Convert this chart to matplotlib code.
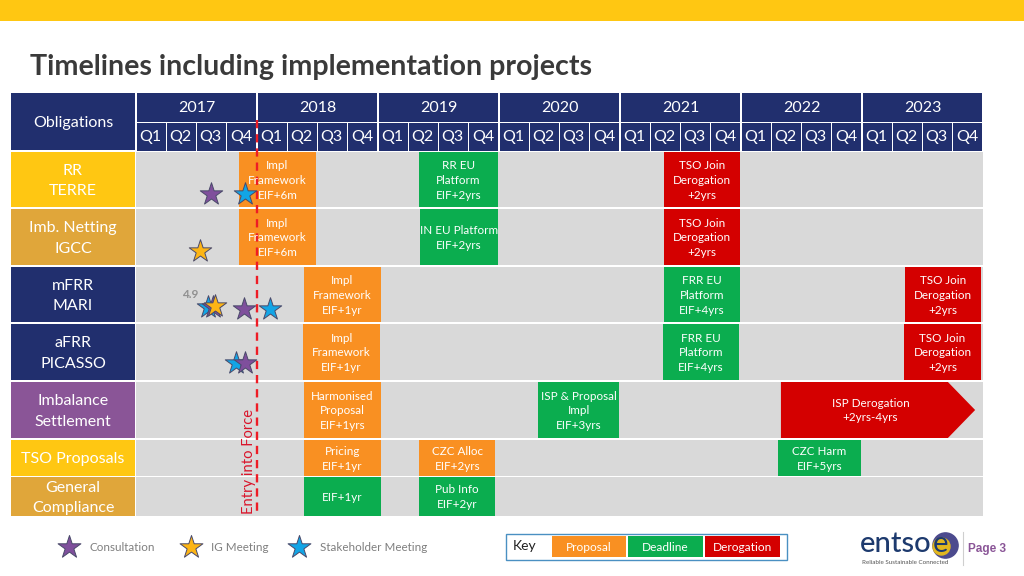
import matplotlib
matplotlib.use("Agg")
import matplotlib.pyplot as plt
from matplotlib.patches import Rectangle, Polygon

plt.rcParams['font.family'] = ['Lato', 'DejaVu Sans']

NAVY, YEL, GOLD, PUR = '#212F6E', '#FFC712', '#E0A63A', '#8A5597'
ORA, GRN, RED, GREY = '#F99022', '#0BAD4F', '#D40000', '#D9D9D9'
STAR_P, STAR_G, STAR_B = '#7F4F9C', '#FDB515', '#12A5E6'

years = [2017, 2018, 2019, 2020, 2021, 2022, 2023]
quarters = ['Q1', 'Q2', 'Q3', 'Q4']
row_labels = ['RR\nTERRE', 'Imb. Netting\nIGCC', 'mFRR\nMARI', 'aFRR\nPICASSO',
              'Imbalance\nSettlement', 'TSO Proposals', 'General\nCompliance']
row_colors = [YEL, GOLD, NAVY, NAVY, PUR, YEL, GOLD]
row_tops = [152, 209, 267, 324, 382, 440, 477]
row_bottoms = [207, 265, 322, 380, 438, 476, 516]

# row, start quarter, end quarter, colour, text
tasks = [
    (0, 3.40, 5.95, ORA, 'Impl\nFramework\nEIF+6m'),
    (0, 9.36, 11.97, GRN, 'RR EU\nPlatform\nEIF+2yrs'),
    (0, 17.45, 19.97, RED, 'TSO Join\nDerogation\n+2yrs'),
    (1, 3.40, 5.95, ORA, 'Impl\nFramework\nEIF+6m'),
    (1, 9.39, 11.97, GRN, 'IN EU Platform\nEIF+2yrs'),
    (1, 17.45, 19.97, RED, 'TSO Join\nDerogation\n+2yrs'),
    (2, 5.55, 8.10, ORA, 'Impl\nFramework\nEIF+1yr'),
    (2, 17.45, 19.97, GRN, 'FRR EU\nPlatform\nEIF+4yrs'),
    (2, 25.42, 27.93, RED, 'TSO Join\nDerogation\n+2yrs'),
    (3, 5.52, 8.07, ORA, 'Impl\nFramework\nEIF+1yr'),
    (3, 17.42, 19.94, GRN, 'FRR EU\nPlatform\nEIF+4yrs'),
    (3, 25.39, 27.93, RED, 'TSO Join\nDerogation\n+2yrs'),
    (4, 5.55, 8.10, ORA, 'Harmonised\nProposal\nEIF+1yrs'),
    (4, 13.29, 15.97, GRN, 'ISP & Proposal\nImpl\nEIF+3yrs'),
    (5, 5.55, 8.10, ORA, 'Pricing\nEIF+1yr'),
    (5, 9.36, 11.88, ORA, 'CZC Alloc\nEIF+2yrs'),
    (5, 21.22, 23.97, GRN, 'CZC Harm\nEIF+5yrs'),
    (6, 5.55, 8.10, GRN, 'EIF+1yr'),
    (6, 9.36, 11.88, GRN, 'Pub Info\nEIF+2yr'),
]
# row, start, shoulder, tip, text
arrow_task = (4, 21.32, 26.84, 27.74, 'ISP Derogation\n+2yrs-4yrs')

# quarter position, row-pixel y, colour (drawn in this order)
stars = [
    (2.47, 194, STAR_P), (3.59, 194, STAR_B), (2.11, 251, STAR_G),
    (2.38, 307, STAR_B), (2.55, 307, STAR_P), (2.60, 306, STAR_G),
    (3.57, 309, STAR_P), (4.43, 309, STAR_B),
    (3.31, 363, STAR_B), (3.61, 363, STAR_P),
]
eif_quarter = 4.0

X0, QW = 136, 30.25
fig = plt.figure(figsize=(10.24, 5.76), dpi=100)
ax = fig.add_axes([0, 0, 1, 1])
ax.set_xlim(-X0 / QW, (1024 - X0) / QW)
ax.set_ylim(576, 0)
ax.axis('off')
n_q = len(years) * 4


def rect(x0, y0, x1, y1, color, z=1, **kw):
    ax.add_patch(Rectangle((x0, y0), x1 - x0, y1 - y0, facecolor=color,
                           edgecolor=kw.pop('edgecolor', 'none'), zorder=z, **kw))


# top band and title
rect(-X0 / QW, 0, (1024 - X0) / QW, 21, YEL)
ax.text((30 - X0) / QW, 67, 'Timelines including implementation projects',
        fontsize=20.6, fontweight='bold', color='#3A3A3A', va='center', ha='left')

# header
lab_x0, lab_x1 = -125 / QW, -1 / QW
rect(lab_x0, 93, lab_x1, 150, NAVY)
ax.text((lab_x0 + lab_x1) / 2, 123.5, 'Obligations', color='white', fontsize=11.5, ha='center', va='center')
for i, y in enumerate(years):
    q0 = i * 4
    rect(q0 + 0.02, 93, q0 + 3.98, 121.5, NAVY)
    ax.text(q0 + 2, 108, str(y), color='white', fontsize=11.5, ha='center', va='center')
    for j, q in enumerate(quarters):
        rect(q0 + j + 0.02, 122.5, q0 + j + 0.98, 150.5, NAVY)
        ax.text(q0 + j + 0.47, 137.5, q, color='white', fontsize=11.5, ha='center', va='center')

# rows
for lab, col, t, b in zip(row_labels, row_colors, row_tops, row_bottoms):
    rect(lab_x0, t, lab_x1, b, col)
    rect(0, t, n_q, b, GREY)
    ax.text((lab_x0 + lab_x1) / 2, (t + b) / 2 + 1.5, lab, color='white', fontsize=11.5,
            ha='center', va='center', linespacing=1.62)

# tasks
for r, s, e, c, txt in tasks:
    t, b = row_tops[r], row_bottoms[r]
    rect(s, t, e, b, c, z=2)
    ax.text((s + e) / 2, (t + b) / 2 + 0.8, txt, color='white', fontsize=8.4, ha='center', va='center',
            linespacing=1.42, zorder=5)

r, s, sh, tip, txt = arrow_task
t, b = row_tops[r], row_bottoms[r]
ax.add_patch(Polygon([(s, t), (sh, t), (tip, (t + b) / 2), (sh, b), (s, b)], facecolor=RED,
                     edgecolor='none', zorder=2))
ax.text((s + sh) / 2 + 0.2, (t + b) / 2 + 0.5, txt, color='white', fontsize=8.4, ha='center', va='center',
        linespacing=1.42, zorder=5)

# entry into force
ax.plot([eif_quarter, eif_quarter], [120, 516], color='#EE1C25', lw=1.7, ls=(0, (3.5, 2.5)), zorder=4)
ax.text(eif_quarter - 0.27, 514, 'Entry into Force', rotation=90, color='#D9142A', fontsize=10.6,
        ha='center', va='bottom', zorder=6)

# stars
for q, y, c in stars:
    ax.scatter([q], [y], marker='*', s=290, facecolor=c, edgecolor='#4A4A6A', linewidth=0.7, zorder=7)
ax.text(1.8, 294.5, '4.9', color='#909090', fontsize=8.5, fontweight='bold', ha='center', va='center', zorder=6)

# star legend
legend_items = [('Consultation', STAR_P, 69, 89), ('IG Meeting', STAR_G, 191, 211),
                ('Stakeholder Meeting', STAR_B, 299, 320)]
for name, c, sx, tx in legend_items:
    ax.scatter([(sx - X0) / QW], [547], marker='*', s=300, facecolor=c, edgecolor='#4A4A6A', linewidth=0.7, zorder=7)
    ax.text((tx - X0) / QW, 547.5, name, color='#7F7F7F', fontsize=8.4, ha='left', va='center')

# key
rect((506 - X0) / QW, 533.5, (787 - X0) / QW, 559.5, 'white', edgecolor='#4A90C2', linewidth=1)
ax.text((525 - X0) / QW, 546.5, 'Key', color='#222222', fontsize=10, ha='center', va='center')
for name, c, x0, x1 in [('Proposal', ORA, 552, 626), ('Deadline', GRN, 628, 703), ('Derogation', RED, 705, 780)]:
    rect((x0 - X0) / QW, 536, (x1 - X0) / QW, 557, c)
    ax.text(((x0 + x1) / 2 - X0) / QW, 547.5, name, color='white', fontsize=8.6, ha='center', va='center')

# logo and page number
ax.text((860 - X0) / QW, 544, 'entso', color='#1D3A6E', fontsize=21, ha='left', va='center', fontweight='medium')
ax.scatter([(945 - X0) / QW], [545], s=330, color='#4C4A8E', zorder=3)
ax.scatter([(941 - X0) / QW], [546], s=150, color='#E2B71F', zorder=4)
ax.text((941 - X0) / QW, 544, 'e', color='#1D3A6E', fontsize=21, ha='center', va='center', zorder=5)
ax.text((862 - X0) / QW, 562.5, 'Reliable Sustainable Connected', color='#555555', fontsize=4.5, ha='left', va='center')
ax.plot([(962.5 - X0) / QW] * 2, [532, 565], color='#CFCFCF', lw=0.8)
ax.text((968 - X0) / QW, 549, 'Page 3', color=PUR, fontsize=8.5, fontweight='bold', ha='left', va='center',
        family=['Liberation Sans'])

fig.savefig('out.png', dpi=100)
